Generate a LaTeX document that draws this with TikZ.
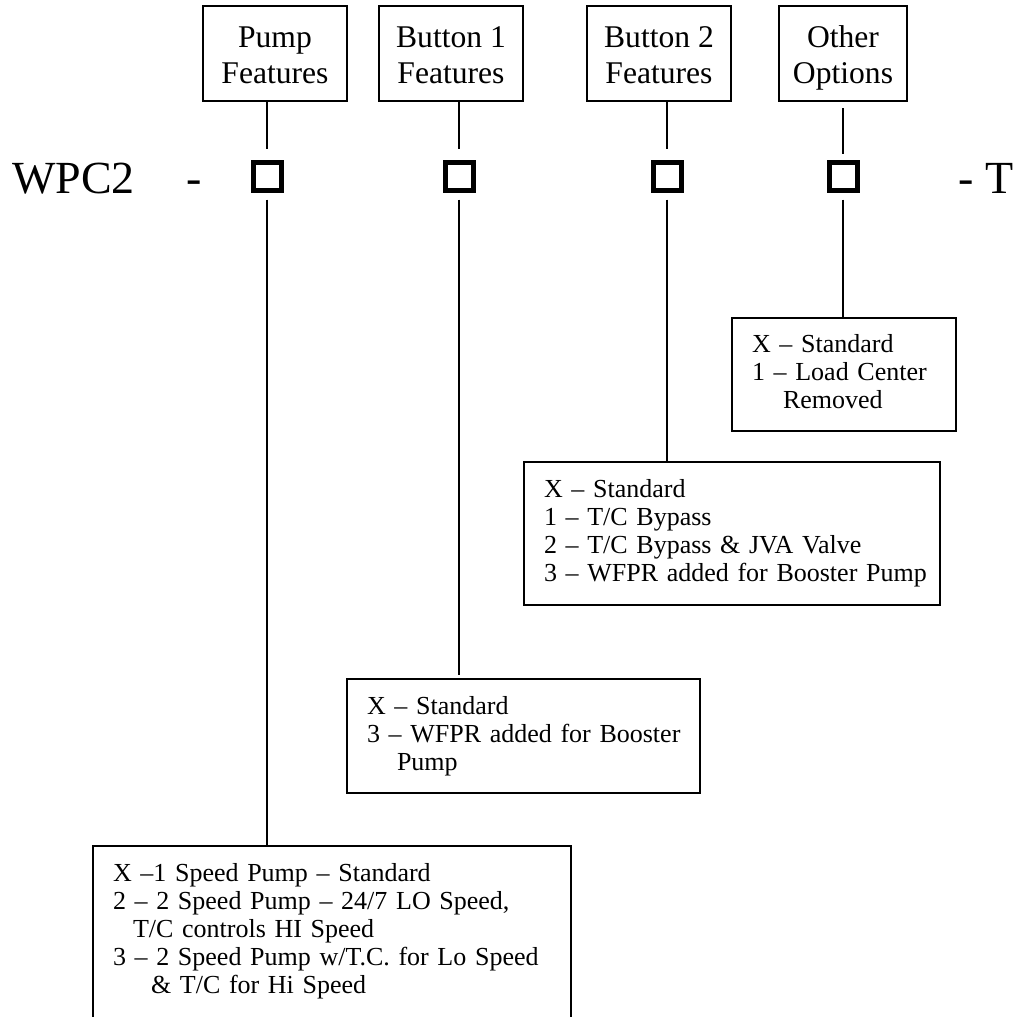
\documentclass[tikz,border=0pt]{standalone}
\usepackage{fontspec}
\setmainfont{Liberation Serif}
\usetikzlibrary{positioning}
\tikzset{
  hdbox/.style={draw, line width=2pt, inner sep=0pt, minimum height=95pt, align=center, font=\fontsize{31.6}{36}\selectfont},
  slot/.style={draw, line width=5pt, minimum size=28pt, inner sep=0pt},
  optbox/.style={draw, line width=2pt, anchor=north west, inner xsep=20pt, inner ysep=0pt, text width=#1, align=left, font=\fontsize{26}{28}\selectfont},
  code/.style={anchor=base west, inner sep=0pt, font=\fontsize{46}{50}\selectfont},
  link/.style={line width=2pt}
}
\newcommand{\hdtext}[2]{\rule{0pt}{30pt}#1\\#2\vphantom{p}}

\begin{document}
\begin{tikzpicture}[x=1pt, y=-1pt]
\useasboundingbox (0,0) rectangle (1020,1017);
\clip (0,0) rectangle (1020,1017);
% header boxes
\node[hdbox, minimum width=144pt] (hdPump) at (275,53.5) {\hdtext{Pump}{Features}};
\node[hdbox, minimum width=144pt] (hdBtnA) at (451,53.5) {\hdtext{Button 1}{Features}};
\node[hdbox, minimum width=144pt] (hdBtnB) at (659,53.5) {\hdtext{Button 2}{Features}};
\node[hdbox, minimum width=128pt] (hdOther) at (843,53.5) {\hdtext{Other}{Options}};
% model code
\node[code] (wpc) at (12,193) {WPC2};
\node[code] (dashA) at (186,193) {-};
\node[code] (tailT) at (958,193) {- T};
% slots
\node[slot] (sqPump) at (267,176.5) {};
\node[slot] (sqBtnA) at (459,176.5) {};
\node[slot] (sqBtnB) at (667,176.5) {};
\node[slot] (sqOther) at (843,176.5) {};
% option boxes
\node[optbox=184pt, minimum height=113pt] (optOther) at (731,317) {X -- Standard\\\mbox{1 -- Load Center}\\\hspace*{31pt}Removed\vphantom{p}};
\node[optbox=376pt, minimum height=143pt] (optBtnB) at (523,461) {X -- Standard\\1 -- T/C Bypass\\\mbox{2 -- T/C Bypass \& JVA Valve}\\\mbox{3 -- WFPR added for Booster Pump}};
\node[optbox=313pt, minimum height=114pt] (optBtnA) at (346,678) {X -- Standard\\\mbox{3 -- WFPR added for Booster}\\\hspace*{30pt}Pump};
\node[optbox=438pt, minimum height=178pt] (optPump) at (92,845) {\mbox{X --1 Speed Pump -- Standard}\\\mbox{2 -- 2 Speed Pump -- 24/7 LO Speed,}\\\hspace*{20pt}T/C controls HI Speed\\\mbox{3 -- 2 Speed Pump w/T.C. for Lo Speed}\\\hspace*{38pt}\& T/C for Hi Speed\rule[-13.7pt]{0pt}{0pt}};
% connectors
\draw[link, shorten >=11.5pt] (hdPump.south -| sqPump) -- (sqPump);
\draw[link, shorten >=11.5pt] (hdBtnA.south -| sqBtnA) -- (sqBtnA);
\draw[link, shorten >=11.5pt] (hdBtnB.south -| sqBtnB) -- (sqBtnB);
\draw[link, shorten <=6pt, shorten >=6.5pt] (hdOther.south -| sqOther) -- (sqOther);
\draw[link, shorten <=6.5pt] (sqPump) -- (sqPump |- optPump.north);
\draw[link, shorten <=6.5pt, shorten >=3pt] (sqBtnA) -- (sqBtnA |- optBtnA.north);
\draw[link, shorten <=6.5pt] (sqBtnB) -- (sqBtnB |- optBtnB.north);
\draw[link, shorten <=6.5pt] (sqOther) -- (sqOther |- optOther.north);
\end{tikzpicture}
\end{document}
